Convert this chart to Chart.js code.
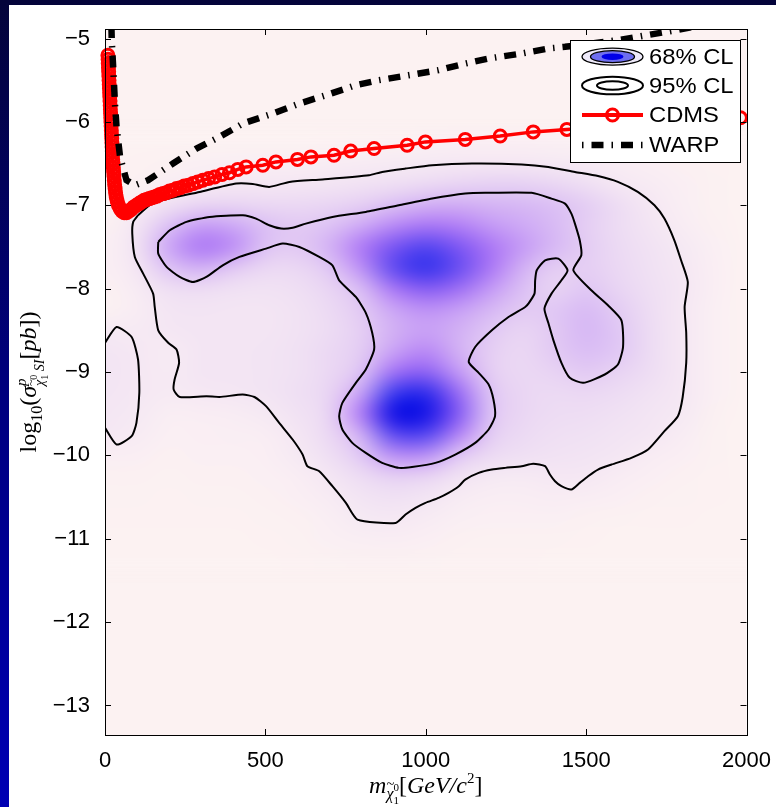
<!DOCTYPE html>
<html>
<head>
<meta charset="utf-8">
<script src="https://cdn.jsdelivr.net/npm/chart.js@4.4.1/dist/chart.umd.min.js"></script>
<style>
  html, body { margin: 0; padding: 0; }
  body { width: 776px; height: 807px; overflow: hidden; position: relative;
         background: linear-gradient(to bottom, #04043a 0%, #00007a 45%, #0000b4 100%); }
  #panel { position: absolute; left: 9px; top: 5px; width: 767px; height: 802px; background: #ffffff; }
  canvas { display: block; }
</style>
</head>
<body>
<div id="panel"><canvas id="c" width="767" height="802"></canvas></div>
<script>
// ---------------- data ----------------
const massTicks = [0, 500, 1000, 1500, 2000];
const logSigmaTicks = [-13, -12, -11, -10, -9, -8, -7, -6, -5];

// posterior density grid (arbitrary units 0..100), rows = log sigma, columns = mass
const densityMass = [0, 100, 200, 300, 400, 500, 600, 700, 800, 900, 1000, 1100, 1200, 1300, 1400, 1500, 1600, 1700, 1800, 1900, 2000];
const densityLogSigma = [-6.25, -6.5, -6.75, -7.0, -7.25, -7.5, -7.75, -8.0, -8.25, -8.5, -8.75, -9.0, -9.25, -9.5, -9.75, -10.0, -10.25, -10.5, -10.75, -11.0, -11.25];
const densityValues = [
  [0, 0, 0, 0, 0, 0, 0, 1, 2, 3, 4, 5, 5, 5, 4, 3, 2, 1, 0, 0, 0],
  [0, 1, 3, 4, 6, 7, 7, 8, 9, 10, 11, 12, 12, 12, 11, 10, 8, 5, 3, 1, 0],
  [0, 3, 7, 10, 12, 12, 13, 14, 16, 18, 21, 24, 26, 26, 23, 18, 12, 9, 5, 2, 0],
  [0, 8, 17, 23, 24, 22, 22, 24, 27, 33, 38, 39, 37, 36, 33, 28, 20, 12, 6, 2, 0],
  [3, 14, 33, 44, 41, 33, 29, 32, 40, 50, 56, 53, 45, 40, 35, 27, 20, 14, 8, 3, 0],
  [4, 16, 42, 56, 49, 32, 29, 38, 55, 72, 80, 71, 56, 45, 36, 28, 21, 16, 11, 4, 0],
  [5, 13, 32, 38, 29, 22, 22, 30, 48, 78, 88, 76, 56, 38, 27, 27, 22, 17, 12, 5, 0],
  [3, 9, 18, 19, 17, 16, 18, 24, 34, 56, 68, 60, 45, 33, 24, 30, 24, 18, 13, 5, 0],
  [2, 8, 14, 15, 14, 14, 16, 21, 29, 41, 47, 43, 36, 29, 30, 35, 28, 19, 12, 4, 0],
  [11, 10, 13, 14, 14, 14, 16, 20, 27, 38, 42, 38, 30, 24, 29, 36, 30, 20, 12, 4, 0],
  [14, 12, 9, 14, 14, 15, 17, 22, 28, 42, 50, 38, 27, 22, 29, 34, 30, 20, 12, 4, 0],
  [15, 12, 10, 14, 14, 15, 17, 22, 31, 58, 65, 45, 27, 22, 25, 29, 25, 19, 12, 4, 0],
  [14, 12, 10, 12, 13, 15, 18, 24, 42, 85, 90, 62, 31, 23, 21, 22, 20, 16, 12, 4, 0],
  [13, 11, 6, 7, 8, 11, 16, 24, 55, 100, 98, 70, 32, 23, 20, 19, 17, 14, 11, 3, 0],
  [12, 9, 4, 5, 6, 7, 13, 22, 38, 78, 80, 52, 28, 21, 18, 17, 15, 13, 8, 2, 0],
  [6, 5, 3, 4, 4, 5, 11, 18, 30, 48, 48, 30, 21, 18, 16, 15, 13, 8, 5, 2, 0],
  [3, 3, 2, 3, 3, 4, 7, 13, 20, 26, 24, 16, 11, 10, 12, 12, 8, 5, 3, 1, 0],
  [2, 2, 1, 2, 2, 3, 5, 9, 15, 17, 15, 9, 7, 7, 8, 7, 5, 3, 2, 1, 0],
  [1, 1, 1, 1, 1, 2, 3, 6, 11, 12, 9, 6, 4, 4, 4, 3, 2, 1, 1, 0, 0],
  [0, 0, 0, 0, 0, 1, 2, 4, 6, 7, 5, 3, 2, 2, 2, 1, 0, 0, 0, 0, 0],
  [0, 0, 0, 0, 0, 0, 1, 2, 3, 3, 2, 1, 1, 1, 0, 0, 0, 0, 0, 0, 0]
];

// 95% CL contour (main region)
const cl95Mass = [103, 150, 295, 409, 461, 512, 575, 678, 823, 864, 937, 1020, 1144, 1299, 1382, 1465, 1537, 1599, 1661, 1713, 1744, 1775, 1796, 1817, 1807, 1812, 1812, 1801, 1786, 1744, 1693, 1641, 1579, 1537, 1506, 1480, 1454, 1423, 1403, 1387, 1372, 1335, 1299, 1248, 1206, 1165, 1123, 1103, 1071, 1040, 999, 968, 937, 906, 787, 751, 709, 668, 631, 616, 585, 543, 502, 466, 429, 357, 316, 233, 214, 217, 231, 223, 197, 166, 155, 150, 119, 93, 85, 88, 103];
const cl95LogSigma = [-7.12, -6.97, -6.84, -6.74, -6.745, -6.78, -6.72, -6.69, -6.64, -6.60, -6.56, -6.52, -6.50, -6.51, -6.54, -6.60, -6.65, -6.72, -6.84, -7.00, -7.16, -7.42, -7.66, -7.92, -8.22, -8.53, -8.89, -9.30, -9.53, -9.71, -9.93, -10.03, -10.11, -10.17, -10.25, -10.33, -10.41, -10.37, -10.31, -10.23, -10.13, -10.10, -10.13, -10.15, -10.17, -10.21, -10.29, -10.37, -10.45, -10.51, -10.57, -10.63, -10.71, -10.81, -10.77, -10.57, -10.37, -10.19, -10.13, -9.99, -9.81, -9.61, -9.41, -9.30, -9.27, -9.30, -9.29, -9.30, -9.21, -9.09, -8.89, -8.73, -8.65, -8.50, -8.22, -8.06, -7.82, -7.62, -7.34, -7.20, -7.12];
// 95% CL contour (small island at low mass)
const cl95IslandMass = [0, 36, 83, 103, 107, 98, 83, 36, 0];
const cl95IslandLogSigma = [-8.65, -8.46, -8.58, -8.85, -9.25, -9.61, -9.77, -9.87, -9.67];
// 68% CL contour
const cl68Mass = [166, 202, 254, 326, 430, 471, 512, 549, 585, 626, 709, 813, 916, 1020, 1123, 1185, 1330, 1392, 1434, 1454, 1465, 1480, 1485, 1460, 1516, 1568, 1610, 1615, 1599, 1558, 1491, 1449, 1423, 1398, 1382, 1370, 1392, 1423, 1442, 1413, 1372, 1346, 1341, 1339, 1320, 1310, 1258, 1206, 1154, 1134, 1165, 1196, 1211, 1216, 1196, 1154, 1092, 1030, 957, 916, 864, 813, 771, 740, 730, 740, 782, 813, 839, 833, 813, 782, 730, 709, 668, 606, 554, 502, 419, 367, 316, 274, 233, 192, 166, 166];
const cl68LogSigma = [-7.44, -7.30, -7.20, -7.14, -7.12, -7.16, -7.24, -7.28, -7.27, -7.22, -7.14, -7.08, -7.00, -6.92, -6.86, -6.85, -6.85, -6.92, -6.98, -7.10, -7.22, -7.42, -7.60, -7.78, -8.02, -8.20, -8.38, -8.70, -8.91, -9.03, -9.13, -9.07, -8.89, -8.62, -8.41, -8.24, -8.06, -7.90, -7.78, -7.64, -7.66, -7.78, -7.90, -8.06, -8.18, -8.22, -8.34, -8.50, -8.70, -8.88, -9.01, -9.15, -9.33, -9.53, -9.69, -9.85, -9.99, -10.09, -10.14, -10.15, -10.09, -9.97, -9.85, -9.69, -9.53, -9.37, -9.13, -8.97, -8.73, -8.53, -8.29, -8.10, -7.90, -7.72, -7.62, -7.50, -7.46, -7.52, -7.62, -7.72, -7.86, -7.92, -7.86, -7.74, -7.58, -7.44];

// CDMS exclusion limit
const cdmsMass = [9, 9.6, 10.2, 10.8, 11.4, 12, 12.6, 13.2, 13.8, 14.4, 15, 15.6, 16.2, 16.8, 17.4, 18, 18.6, 19.2, 19.8, 20.4, 21, 21.6, 22.2, 22.8, 23.4, 24, 25, 26, 27, 28, 29, 30, 31.5, 33, 35, 38, 42, 47, 53, 60, 67, 74, 82, 90, 98, 106, 114, 122, 130, 138, 146, 154, 162, 171, 181, 191, 201, 212, 223, 235, 247, 260, 274, 289, 305, 323, 342, 365, 388, 414, 440, 492, 533, 600, 642, 714, 766, 839, 942, 999, 1123, 1232, 1335, 1440, 1550, 1660, 1770, 1880, 1981];
const cdmsLogSigma = [-5.20, -5.25, -5.30, -5.35, -5.40, -5.45, -5.50, -5.55, -5.60, -5.65, -5.70, -5.75, -5.80, -5.85, -5.90, -5.95, -6.00, -6.05, -6.10, -6.15, -6.20, -6.25, -6.30, -6.35, -6.40, -6.45, -6.50, -6.55, -6.60, -6.65, -6.70, -6.75, -6.80, -6.85, -6.90, -6.95, -7.00, -7.04, -7.07, -7.09, -7.09, -7.07, -7.05, -7.02, -7.00, -6.98, -6.96, -6.94, -6.93, -6.92, -6.91, -6.90, -6.89, -6.87, -6.86, -6.85, -6.83, -6.82, -6.80, -6.79, -6.77, -6.76, -6.74, -6.72, -6.70, -6.68, -6.66, -6.63, -6.61, -6.57, -6.54, -6.52, -6.48, -6.45, -6.42, -6.40, -6.35, -6.32, -6.28, -6.24, -6.21, -6.17, -6.12, -6.09, -6.06, -6.03, -6.00, -5.97, -5.95];

// WARP exclusion limit
const warpMass = [20, 21, 26, 31, 36, 47, 67, 93, 134, 212, 285, 357, 430, 523, 606, 689, 782, 854, 947, 1040, 1123, 1196, 1299, 1382, 1434, 1600, 1780, 1850];
const warpLogSigma = [-4.85, -5.02, -5.38, -5.78, -6.06, -6.42, -6.70, -6.76, -6.70, -6.50, -6.32, -6.18, -6.02, -5.90, -5.78, -5.68, -5.56, -5.50, -5.44, -5.38, -5.30, -5.24, -5.18, -5.12, -5.10, -5.02, -4.90, -4.85];

const legendLabels = ['68% CL', '95% CL', 'CDMS', 'WARP'];

// ---------------- helpers ----------------
const pts = (xs, ys) => xs.map((x, i) => ({ x: x, y: ys[i] }));
const cmapStops = [[0, [252, 242, 242]], [8, [248, 236, 243]], [15, [242, 228, 243]], [25, [232, 211, 243]],
  [35, [216, 186, 244]], [45, [195, 152, 245]], [55, [172, 118, 245]], [70, [128, 86, 243]],
  [85, [58, 58, 238]], [100, [10, 10, 228]]];
function cmap(v) {
  if (v <= cmapStops[0][0]) return cmapStops[0][1];
  for (let i = 1; i < cmapStops.length; i++) {
    if (v <= cmapStops[i][0]) {
      const [a, ca] = cmapStops[i - 1], [b, cb] = cmapStops[i];
      const t = (v - a) / (b - a);
      return ca.map((c, k) => Math.round(c + (cb[k] - c) * t));
    }
  }
  return cmapStops[cmapStops.length - 1][1];
}
const SERIF = "'Liberation Serif','DejaVu Serif',serif";
const SANS = "'Liberation Sans',Arial,sans-serif";

function partWidth(ctx, p) {
  if (p.stack) return Math.max(...p.stack.map(g => g.reduce((s, q) => s + partWidth(ctx, q), 0)));
  ctx.font = p.font; return ctx.measureText(p.t).width + (p.gap || 0);
}
function drawParts(ctx, parts, x, y) {
  let cx = x;
  parts.forEach(p => {
    const w = partWidth(ctx, p);
    if (p.stack) {
      p.stack.forEach(g => drawParts(ctx, g, cx, y));
    } else {
      ctx.font = p.font;
      ctx.fillText(p.t, cx, y + (p.dy || 0));
      if (p.tilde) {
        const tw = ctx.measureText(p.t).width;
        const fs = parseFloat(p.font.match(/(\d+(\.\d+)?)px/)[1]);
        ctx.font = (fs * 0.9) + 'px ' + SERIF;
        ctx.textAlign = 'center';
        ctx.fillText('~', cx + tw * 0.55, y + (p.dy || 0) - fs * 0.62);
        ctx.textAlign = 'left';
      }
    }
    cx += w;
  });
}
function drawRichCentered(ctx, parts, x, y) {
  const total = parts.reduce((s, p) => s + partWidth(ctx, p), 0);
  ctx.textAlign = 'left'; ctx.textBaseline = 'alphabetic';
  drawParts(ctx, parts, x - total / 2, y);
}

// ---------------- plugins ----------------
const densityPlugin = {
  id: 'density',
  beforeDatasetsDraw(chart) {
    const { ctx, chartArea: a, scales: { x: xs, y: ys } } = chart;
    ctx.save();
    ctx.fillStyle = 'rgb(' + cmap(0).join(',') + ')';
    ctx.fillRect(a.left, a.top, a.right - a.left, a.bottom - a.top);
    const nx = densityMass.length, ny = densityLogSigma.length;
    const off = document.createElement('canvas'); off.width = nx; off.height = ny;
    const octx = off.getContext('2d');
    const img = octx.createImageData(nx, ny);
    for (let j = 0; j < ny; j++) for (let i = 0; i < nx; i++) {
      const c = cmap(densityValues[j][i]); const k = (j * nx + i) * 4;
      img.data[k] = c[0]; img.data[k + 1] = c[1]; img.data[k + 2] = c[2]; img.data[k + 3] = 255;
    }
    octx.putImageData(img, 0, 0);
    const dx = densityMass[1] - densityMass[0], dy = densityLogSigma[0] - densityLogSigma[1];
    const l = xs.getPixelForValue(densityMass[0] - dx / 2), r = xs.getPixelForValue(densityMass[nx - 1] + dx / 2);
    const t = ys.getPixelForValue(densityLogSigma[0] + dy / 2), b = ys.getPixelForValue(densityLogSigma[ny - 1] - dy / 2);
    ctx.beginPath(); ctx.rect(a.left, a.top, a.right - a.left, a.bottom - a.top); ctx.clip();
    ctx.imageSmoothingEnabled = true; ctx.imageSmoothingQuality = 'high';
    ctx.filter = 'blur(7px)';
    ctx.drawImage(off, l, t, r - l, b - t);
    ctx.restore();
  }
};

const framePlugin = {
  id: 'frame',
  afterDraw(chart) {
    const { ctx, chartArea: a, scales: { x: xs, y: ys } } = chart;
    ctx.save();
    ctx.strokeStyle = '#000'; ctx.lineWidth = 1;
    const L = 6;
    ctx.beginPath();
    massTicks.forEach(v => {
      const px = Math.round(xs.getPixelForValue(v)) + 0.5;
      ctx.moveTo(px, a.bottom); ctx.lineTo(px, a.bottom - L);
      ctx.moveTo(px, a.top); ctx.lineTo(px, a.top + L);
    });
    logSigmaTicks.forEach(v => {
      const py = Math.round(ys.getPixelForValue(v)) + 0.5;
      ctx.moveTo(a.left, py); ctx.lineTo(a.left + L, py);
      ctx.moveTo(a.right, py); ctx.lineTo(a.right - L, py);
    });
    ctx.stroke();
    ctx.strokeRect(Math.round(a.left) + 0.5, Math.round(a.top) + 0.5, Math.round(a.right - a.left), Math.round(a.bottom - a.top));

    // legend
    const bx = 561, by = 35, bw = 170, bh = 122;
    ctx.fillStyle = '#fff'; ctx.fillRect(bx, by, bw, bh);
    ctx.strokeStyle = '#000'; ctx.lineWidth = 1; ctx.strokeRect(bx + 0.5, by + 0.5, bw, bh);
    const sx = 603.5, rows = [51.7, 80.5, 110, 140];
    const ell = (rx, ry, y, fill, lw) => { ctx.beginPath(); ctx.ellipse(sx, y, rx, ry, 0, 0, Math.PI * 2); if (fill) { ctx.fillStyle = fill; ctx.fill(); } if (lw > 0) { ctx.lineWidth = lw; ctx.strokeStyle = '#000'; ctx.stroke(); } };
    ell(30.5, 8.5, rows[0], 'rgb(238,234,250)', 1.3);
    ell(22, 6, rows[0], 'rgb(110,110,240)', 1.3);
    ell(11, 3.3, rows[0], 'rgb(0,0,232)', 0);
    ell(30.5, 8.8, rows[1], null, 2);
    ell(15.5, 4.3, rows[1], null, 2);
    ctx.strokeStyle = 'rgb(255,0,0)'; ctx.lineWidth = 4;
    ctx.beginPath(); ctx.moveTo(573, rows[2]); ctx.lineTo(634, rows[2]); ctx.stroke();
    ctx.lineWidth = 3;
    ctx.beginPath(); ctx.arc(sx, rows[2], 6, 0, Math.PI * 2); ctx.stroke();
    ctx.strokeStyle = '#000'; ctx.lineWidth = 6.5; ctx.lineCap = 'butt';
    ctx.setLineDash([1.5, 8, 12, 8]);
    ctx.beginPath(); ctx.moveTo(573, rows[3]); ctx.lineTo(634, rows[3]); ctx.stroke();
    ctx.setLineDash([]);
    ctx.fillStyle = '#000'; ctx.font = '22px ' + SANS; ctx.textBaseline = 'middle'; ctx.textAlign = 'left';
    legendLabels.forEach((s, i) => {
      ctx.save(); ctx.translate(640, rows[i] + 1); ctx.scale(1.08, 1); ctx.fillText(s, 0, 0); ctx.restore();
    });

    // axis titles
    ctx.fillStyle = '#000';
    const cxm = (a.left + a.right) / 2;
    drawRichCentered(ctx, [
      { t: 'm', font: 'italic 24px ' + SERIF },
      { t: 'χ', font: 'italic 16px ' + SERIF, dy: 6, tilde: true },
      { stack: [[{ t: '0', font: '11px ' + SERIF, dy: -2 }], [{ t: '1', font: '11px ' + SERIF, dy: 11 }]], gap: 0 },
      { t: '[', font: '24px ' + SERIF },
      { t: 'GeV/c', font: 'italic 24px ' + SERIF },
      { t: '2', font: '15px ' + SERIF, dy: -10 },
      { t: ']', font: '24px ' + SERIF }
    ], cxm, 788);

    ctx.save();
    ctx.translate(27, (a.top + a.bottom) / 2);
    ctx.rotate(-Math.PI / 2);
    drawRichCentered(ctx, [
      { t: 'log', font: '24px ' + SERIF },
      { t: '10', font: '16px ' + SERIF, dy: 6 },
      { t: '(', font: '24px ' + SERIF },
      { t: 'σ', font: 'italic 24px ' + SERIF },
      { stack: [
        [{ t: 'p', font: 'italic 15px ' + SERIF, dy: -10 }],
        [{ t: 'χ', font: 'italic 14px ' + SERIF, dy: 8, tilde: true },
         { stack: [[{ t: '0', font: '10px ' + SERIF, dy: 1 }], [{ t: '1', font: '10px ' + SERIF, dy: 12 }]] },
         { t: ' SI', font: 'italic 14px ' + SERIF, dy: 8 }]
      ] },
      { t: '[', font: '24px ' + SERIF },
      { t: 'pb', font: 'italic 24px ' + SERIF },
      { t: '])', font: '24px ' + SERIF }
    ], 0, 0);
    ctx.restore();
    ctx.restore();
  }
};

// ---------------- chart ----------------
const lineDs = (label, xs, ys, extra) => Object.assign({
  label: label, data: pts(xs, ys), showLine: true, pointRadius: 0, pointHoverRadius: 0,
  borderColor: '#000', borderWidth: 2, backgroundColor: 'rgba(0,0,0,0)', tension: 0.2, fill: false
}, extra || {});

new Chart(document.getElementById('c'), {
  type: 'scatter',
  data: {
    datasets: [
      lineDs('WARP', warpMass, warpLogSigma, { borderWidth: 6.5, borderDash: [12, 8, 1.5, 8], borderCapStyle: 'butt', tension: 0, order: 0, clip: 0 }),
      lineDs('CDMS', cdmsMass, cdmsLogSigma, { borderColor: 'rgb(255,0,0)', borderWidth: 3.5, tension: 0, pointRadius: 6,
        pointBorderWidth: 3, pointBorderColor: 'rgb(255,0,0)', pointBackgroundColor: 'rgba(0,0,0,0)', order: 1, clip: false }),
      lineDs('95% CL', cl95Mass, cl95LogSigma, { order: 2 }),
      lineDs('95% CL island', cl95IslandMass, cl95IslandLogSigma, { order: 2 }),
      lineDs('68% CL', cl68Mass, cl68LogSigma, { order: 2 })
    ]
  },
  options: {
    responsive: false, animation: false, devicePixelRatio: 1,
    layout: { padding: { top: 24, right: 27, left: 0, bottom: 0 } },
    plugins: { legend: { display: false }, tooltip: { enabled: false } },
    scales: {
      x: {
        type: 'linear', min: 0, max: 2000,
        afterFit: s => { s.height = 72; },
        afterBuildTicks: s => { s.ticks = massTicks.map(v => ({ value: v })); },
        grid: { display: false }, border: { display: false },
        ticks: { color: '#000', font: { family: SANS, size: 22 }, padding: 5, maxRotation: 0, autoSkip: false,
          callback: v => String(v) }
      },
      y: {
        type: 'linear', min: -13.354, max: -4.886,
        afterFit: s => { s.width = 96; },
        afterBuildTicks: s => { s.ticks = logSigmaTicks.map(v => ({ value: v })); },
        grid: { display: false }, border: { display: false },
        ticks: { color: '#000', font: { family: SANS, size: 22 }, padding: 7, autoSkip: false,
          callback: v => String(v).replace('-', '\u2212') }
      }
    }
  },
  plugins: [densityPlugin, framePlugin]
});
</script>
</body>
</html>
